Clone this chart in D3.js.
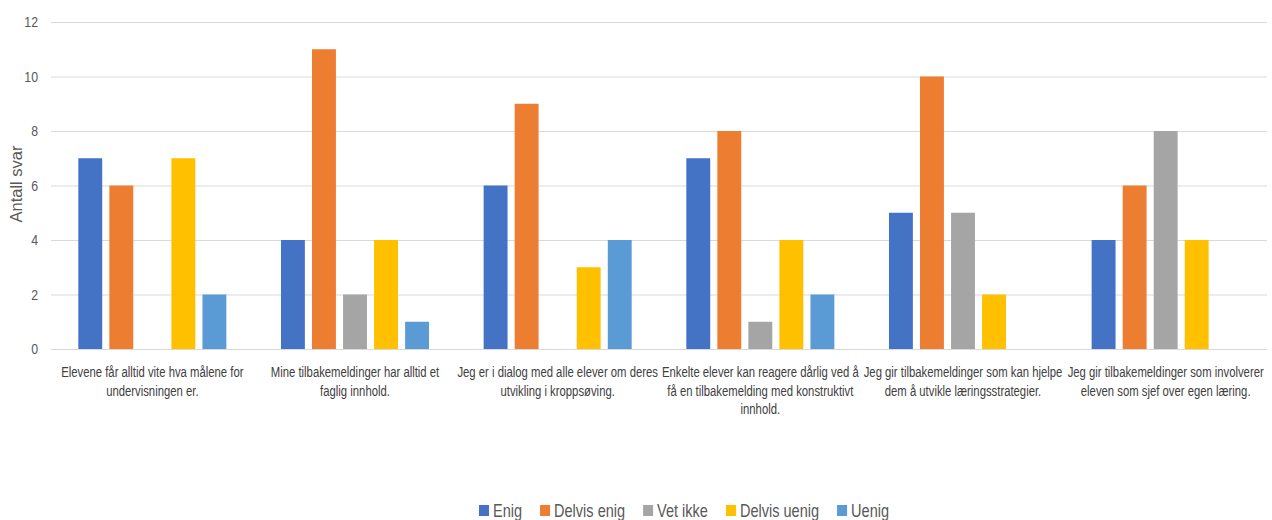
<!DOCTYPE html>
<html>
<head>
<meta charset="utf-8">
<script src="https://cdn.jsdelivr.net/npm/d3@7"></script>
<style>
  html, body { margin: 0; padding: 0; background: #fff; }
  svg { display: block; }
</style>
</head>
<body>
<svg id="chart" width="1272" height="520"></svg>
<script>
const categories = [
  ["Elevene får alltid vite hva målene for", "undervisningen er."],
  ["Mine tilbakemeldinger har alltid et", "faglig innhold."],
  ["Jeg er i dialog med alle elever om deres", "utvikling i kroppsøving."],
  ["Enkelte elever kan reagere dårlig ved å", "få en tilbakemelding med konstruktivt", "innhold."],
  ["Jeg gir tilbakemeldinger som kan hjelpe", "dem å utvikle læringsstrategier."],
  ["Jeg gir tilbakemeldinger som involverer", "eleven som sjef over egen læring."]
];
const seriesNames = ["Enig", "Delvis enig", "Vet ikke", "Delvis uenig", "Uenig"];
const enig        = [7, 4, 6, 7, 5, 4];
const delvisEnig  = [6, 11, 9, 8, 10, 6];
const vetIkke     = [0, 2, 0, 1, 5, 8];
const delvisUenig = [7, 4, 3, 4, 2, 4];
const uenig       = [2, 1, 4, 2, 0, 0];
const yTicks = [0, 2, 4, 6, 8, 10, 12];
const yTitle = "Antall svar";

const seriesValues = [enig, delvisEnig, vetIkke, delvisUenig, uenig];
const colors = ["#4472C4", "#ED7D31", "#A5A5A5", "#FFC000", "#5B9BD5"];

const svg = d3.select("#chart");
const mLeft = 51, mRight = 1267, mTop = 22, mBottom = 349;
const font = "'Liberation Sans', Arial, sans-serif";

const x0 = d3.scaleBand().domain(d3.range(categories.length)).range([mLeft, mRight]).paddingInner(0).paddingOuter(0);
const x1 = d3.scaleBand().domain(d3.range(seriesNames.length)).range([0, x0.bandwidth()]).paddingInner(0.23).paddingOuter(0.88);
const y = d3.scaleLinear().domain([0, 12]).range([mBottom, mTop]);

// gridlines
svg.append("g").selectAll("line").data(yTicks).join("line")
  .attr("x1", mLeft).attr("x2", mRight)
  .attr("y1", d => y(d) + 0.5).attr("y2", d => y(d) + 0.5)
  .attr("stroke", "#D9D9D9").attr("stroke-width", 1);

// y tick labels (condensed look)
svg.append("g").selectAll("g").data(yTicks).join("g")
  .attr("transform", d => `translate(38,${y(d)}) scale(0.85,1)`)
  .append("text")
  .attr("dy", "0.36em")
  .attr("text-anchor", "end")
  .attr("font-family", font).attr("font-size", 14.5)
  .attr("fill", "#595959")
  .text(d => d);

// y title
svg.append("g")
  .attr("transform", `translate(22,${184}) rotate(-90)`)
  .append("text")
  .attr("text-anchor", "middle")
  .attr("font-family", font).attr("font-size", 16.5)
  .attr("fill", "#595959")
  .text(yTitle);

// bars
const groups = svg.append("g").selectAll("g").data(categories).join("g")
  .attr("transform", (d, i) => `translate(${x0(i)},0)`);
groups.selectAll("rect")
  .data((d, i) => seriesValues.map((vals, s) => ({ s, v: vals[i] })).filter(e => e.v > 0))
  .join("rect")
  .attr("x", d => x1(d.s))
  .attr("width", x1.bandwidth())
  .attr("y", d => y(d.v))
  .attr("height", d => y(0) - y(d.v))
  .attr("fill", d => colors[d.s]);

// category labels (condensed)
const catG = svg.append("g").selectAll("g").data(categories).join("g")
  .attr("transform", (d, i) => `translate(${x0(i) + x0.bandwidth() / 2},0) scale(0.78,1)`);
catG.append("text")
  .attr("text-anchor", "middle")
  .attr("font-family", font).attr("font-size", 14.5)
  .attr("fill", "#404040")
  .each(function(lines) {
    d3.select(this).selectAll("tspan").data(lines).join("tspan")
      .attr("x", 0)
      .attr("y", (d, j) => 377.5 + j * 18.5)
      .text(d => d);
  });

// legend
const legendSX = 0.83;
const legend = svg.append("g");
const legendItems = legend.selectAll("g").data(seriesNames).join("g");
legendItems.append("rect").attr("width", 10).attr("height", 11).attr("y", -12)
  .attr("fill", (d, i) => colors[i]);
legendItems.append("g").attr("transform", `translate(14,0) scale(${legendSX},1)`)
  .append("text").attr("x", 0).attr("y", 0)
  .attr("font-family", font).attr("font-size", 17.5)
  .attr("fill", "#595959").text(d => d);
let xpos = 0;
legendItems.each(function() {
  const tw = d3.select(this).select("text").node().getComputedTextLength() * legendSX;
  d3.select(this).attr("transform", `translate(${xpos},0)`);
  xpos += 14 + tw + 18;
});
const totalW = xpos - 18;
legend.attr("transform", `translate(${684 - totalW / 2},517)`);
</script>
</body>
</html>
